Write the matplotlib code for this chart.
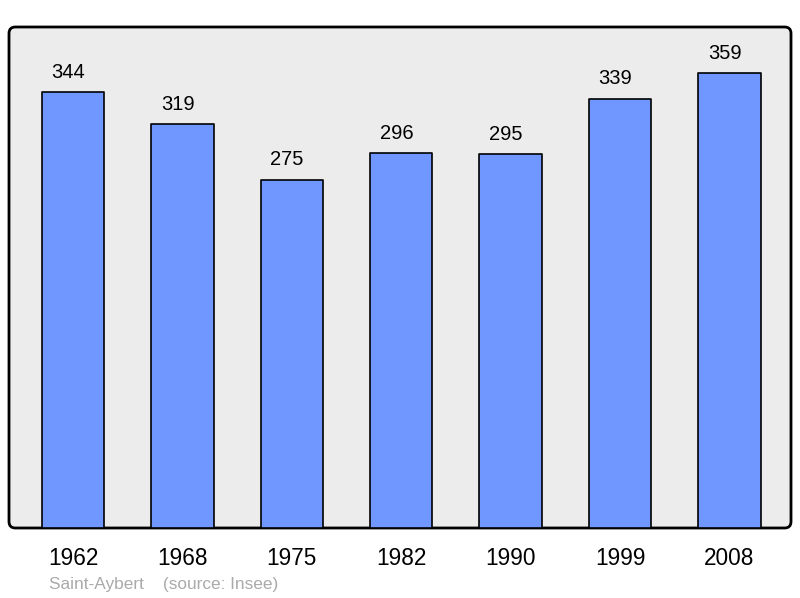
import numpy as np
import matplotlib.pyplot as plt
from matplotlib.patches import FancyBboxPatch

plt.rcParams['font.family'] = ['Liberation Sans', 'DejaVu Sans']

years = ['1962', '1968', '1975', '1982', '1990', '1999', '2008']
population = [344, 319, 275, 296, 295, 339, 359]

BAR_COLOR = '#7096ff'
BG_COLOR = '#ececec'

fig = plt.figure(figsize=(8, 5.98), dpi=100)
ax = fig.add_axes([9 / 800, 70 / 598, 782 / 800, 501 / 598])

# fond arrondi du cadre (sous les barres)
frame = FancyBboxPatch((9 / 800, 70 / 598), 782 / 800, 501 / 598,
                       boxstyle='round,pad=0,rounding_size=0.008',
                       mutation_aspect=800 / 598,
                       transform=fig.transFigure, facecolor=BG_COLOR,
                       edgecolor='black', linewidth=2, zorder=-1)
fig.patches.append(frame)
ax.patch.set_visible(False)
for s in ax.spines.values():
    s.set_visible(False)

x = np.arange(len(years))
bars = ax.bar(x, population, width=0.57, color=BAR_COLOR,
              edgecolor='black', linewidth=1.2, zorder=2)
for b in bars:
    b.set_joinstyle('round')

for xi, v in zip(x, population):
    ax.annotate(str(v), (xi, v), xytext=(-3.4, 10.4), textcoords='offset points',
                ha='center', va='baseline', fontsize=14.5)

ax.set_xlim(-0.585, 6.562)
ax.set_ylim(0, 395.7)
ax.set_xticks(x)
ax.set_xticklabels(years, fontsize=16.3)
ax.tick_params(axis='x', length=0, pad=14)
for lbl in ax.get_xticklabels():
    lbl.set_x(lbl.get_position()[0])
ax.set_yticks([])

fig.text(49 / 800, 1 - 584 / 598, 'Saint-Aybert    (source: Insee)',
         color='#aaaaaa', fontsize=12.4, ha='left', va='center')

plt.savefig('out.png', dpi=100)
